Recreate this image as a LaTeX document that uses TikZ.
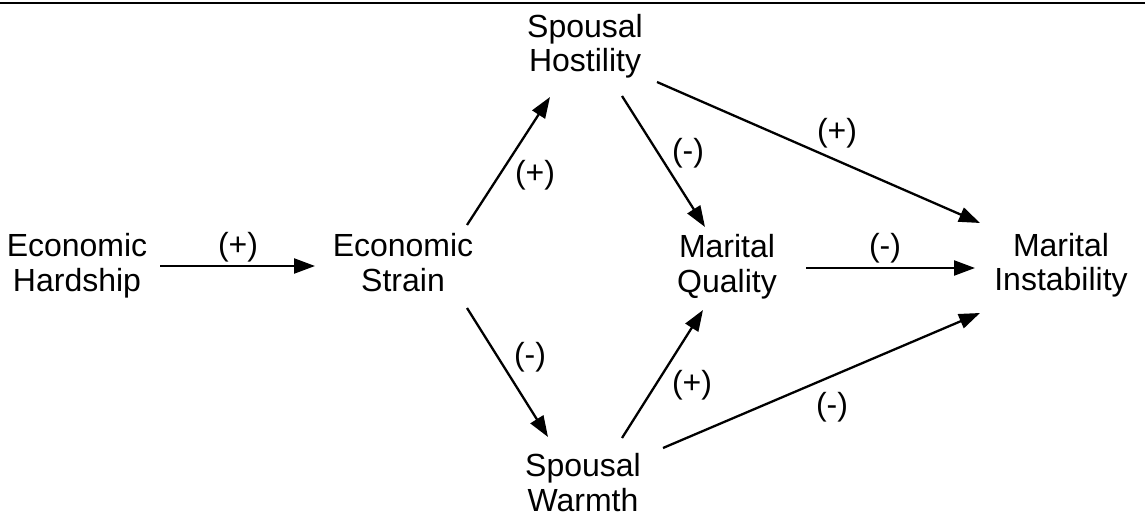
\documentclass[tikz,border=0pt]{standalone}
\usepackage{fontspec}
\setmainfont{Liberation Sans}
\usetikzlibrary{arrows.meta}
\tikzset{
  lbl/.style={font=\fontsize{32}{34.5}\selectfont, inner sep=0pt, align=center},
  conc/.style={lbl, anchor=base},
  sign/.style={lbl, anchor=center},
  arr/.style={line width=2.3pt, -{Triangle[length=21pt,width=15pt]}},
}
\begin{document}
\begin{tikzpicture}[x=1pt,y=-1pt]
\useasboundingbox (0,0) rectangle (1145,518);
\draw[line width=2pt] (0,3) -- (1145,3);
% concepts (base = baseline of the last line)
\node[conc] (eh) at (77,291.5) {Economic\\Hardship};
\node[conc] (es) at (403,291.5) {Economic\\Strain};
\node[conc] (sh) at (585,72) {Spousal\\Hostility};
\node[conc] (mq) at (727,292.5) {Marital\\Quality};
\node[conc] (mi) at (1061,291) {Marital\\Instability};
\node[conc] (sw) at (583,511) {Spousal\\Warmth};
% connectors
\draw[arr] ([shift={(83,-25.5)}]eh.base) -- ([shift={(-88,-25.5)}]es.base);
\draw[arr] ([shift={(64,-66.5)}]es.base) -- ([shift={(-35,25)}]sh.base);
\draw[arr] ([shift={(37,24)}]sh.base) -- ([shift={(-22,-65.5)}]mq.base);
\draw[arr] ([shift={(72,10)}]sh.base) -- ([shift={(-81,-68)}]mi.base);
\draw[arr] ([shift={(64,16.5)}]es.base) -- ([shift={(-35,-74)}]sw.base);
\draw[arr] ([shift={(79,-24.5)}]mq.base) -- ([shift={(-86,-23)}]mi.base);
\draw[arr] ([shift={(39,-73)}]sw.base) -- ([shift={(-24,17.5)}]mq.base);
\draw[arr] ([shift={(80,-63)}]sw.base) -- ([shift={(-81,22)}]mi.base);
% signs
\node[sign] (s1) at (238,247) {(+)};
\node[sign] (s2) at (535,175) {(+)};
\node[sign] (s3) at (688,153) {(-)};
\node[sign] (s4) at (530,357) {(-)};
\node[sign] (s5) at (837,133) {(+)};
\node[sign] (s6) at (885,248) {(-)};
\node[sign] (s7) at (692,385) {(+)};
\node[sign] (s8) at (832,407) {(-)};
\end{tikzpicture}
\end{document}
